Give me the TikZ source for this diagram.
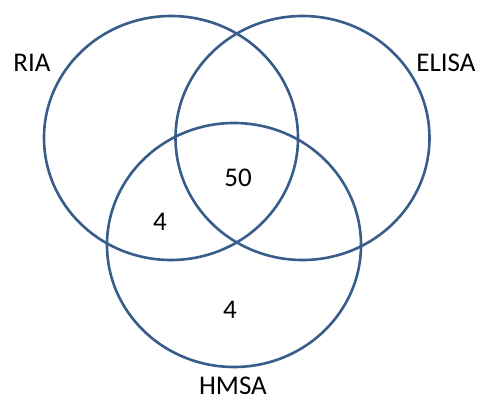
\documentclass[tikz,border=0pt]{standalone}
\usepackage{fontspec}
\setmainfont{Carlito}
\usetikzlibrary{shapes.geometric}
\definecolor{ringblue}{HTML}{385D8A}
\tikzset{
  setring/.style={draw=ringblue, line width=2.6pt, ellipse, inner sep=0pt,
    minimum width=254pt, minimum height=244pt},
  setlabel/.style={font=\fontsize{27}{32}\selectfont, text=black, inner sep=0pt}
}
\begin{document}
\begin{tikzpicture}[x=1pt, y=-1pt]
  \useasboundingbox (0,0) rectangle (479,401);
  % the three sets
  \node[setring] (ria) at (171,138) {};
  \node[setring] (elisa) at (302.5,138) {};
  \node[setring] (hmsa) at (234,245) {};
  % set names
  \node[setlabel] (rianame) at (32,63) {RIA};
  \node[setlabel] (elisaname) at (446,63) {ELISA};
  \node[setlabel] (hmsaname) at (233,386) {HMSA};
  % region counts
  \node[setlabel] (all) at (238,178) {50};
  \node[setlabel] (riahmsa) at (160,222) {4};
  \node[setlabel] (hmsaonly) at (230,310) {4};
\end{tikzpicture}
\end{document}
